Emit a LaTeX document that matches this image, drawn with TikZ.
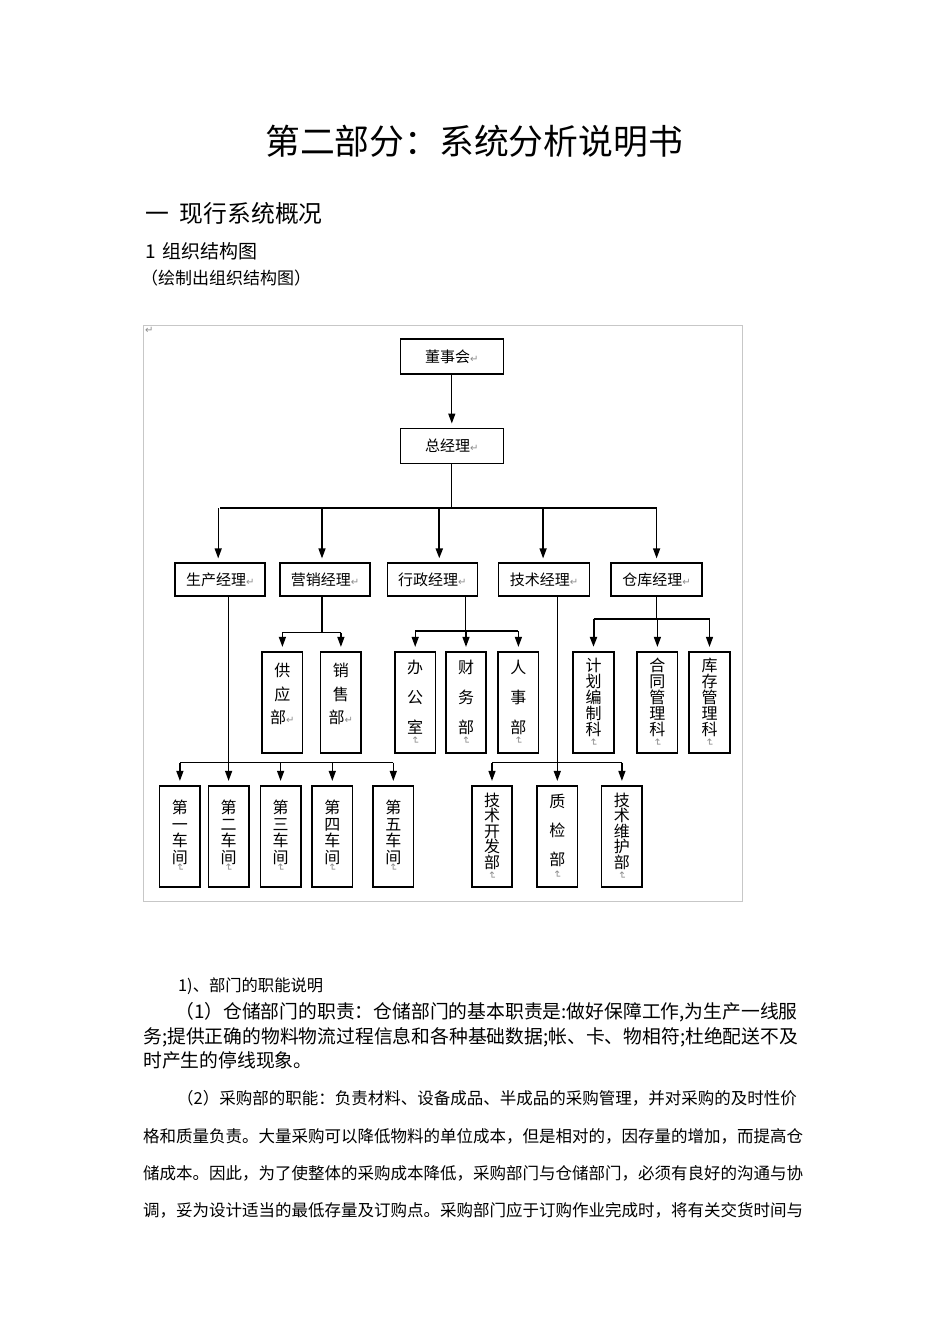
\documentclass[tikz,border=0pt]{standalone}
\usepackage{fontspec}
\usepackage{graphicx}
\setmainfont{Noto Sans CJK SC}
\newfontfamily\symfont{DejaVu Sans}
\XeTeXlinebreaklocale "zh"
\XeTeXlinebreakskip=0pt plus 2pt
\usetikzlibrary{arrows.meta}
\tikzset{
  box/.style={draw,line width=1.6pt,inner sep=0pt,font=\fontsize{15}{15}\selectfont},
  hbox/.style={box,minimum width=90pt,minimum height=33pt},
  vbox/.style={box,minimum width=40.5pt,minimum height=101pt,align=center},
  link/.style={line width=1.3pt},
  arr/.style={link,->,shorten >=4pt},
  txt/.style={anchor=west,inner sep=0pt},
}
\newcommand{\retmark}{{\color{black!45}\symfont\fontsize{10}{10}\selectfont ↵}}
\newcommand{\vretmark}{{\color{black!45}\symfont\fontsize{10}{10}\selectfont\rotatebox[origin=c]{-90}{↵}}}
\newcommand{\fullline}[2]{\makebox[#1pt][s]{#2}}
\begin{document}
\begin{tikzpicture}[x=1pt,y=-1pt,>={Triangle[length=10pt,width=7pt]}]
\fill[white] (0,0) rectangle (950,1344);
\useasboundingbox (0,0) rectangle (950,1344);
% headings
\node[font=\fontsize{34.8}{40}\selectfont] (title) at (474,141) {第二部分：系统分析说明书};
\node[txt,font=\fontsize{23.8}{28}\selectfont] (sec) at (145,213) {一\hspace{11pt}现行系统概况};
\node[txt,font=\fontsize{19}{22}\selectfont] (sub) at (145,251) {1\hspace{7pt}组织结构图};
\node[txt,font=\fontsize{17}{20}\selectfont] (note) at (141,278) {（绘制出组织结构图）};
% frame
\draw[black!22,line width=1pt] (143.5,325.5) rectangle (742.5,901.5);
\node[inner sep=0pt,anchor=north west] (pmark) at (145,327) {\retmark};
% top
\node[box,minimum width=103pt,minimum height=35pt] (dsh) at (451.8,356.5) {董事会\retmark};
\node[box,minimum width=103pt,minimum height=35pt] (zjl) at (451.8,445.8) {总经理\retmark};
\node[hbox] (scjl) at (220.2,579.7) {生产经理\retmark};
\node[hbox] (yxjl) at (325,579.7) {营销经理\retmark};
\node[hbox] (xzjl) at (432.3,579.7) {行政经理\retmark};
\node[hbox,minimum width=91pt] (jsjl) at (544.1,579.7) {技术经理\retmark};
\node[hbox,minimum width=91pt] (ckjl) at (656.6,579.7) {仓库经理\retmark};
% third row
\node[vbox,font=\fontsize{16}{23.5}\selectfont] (gyb) at (282.4,702.2) {供\\应\\部\retmark\\[-6pt]\mbox{}};
\node[vbox,font=\fontsize{16}{23.5}\selectfont] (xsb) at (340.9,702.2) {销\\售\\部\retmark\\[-6pt]\mbox{}};
\node[vbox,font=\fontsize{16}{30}\selectfont] (bgs) at (415.2,702.2) {办\\公\\室\\[-20pt]\vretmark};
\node[vbox,font=\fontsize{16}{30}\selectfont] (cwb) at (466,702.2) {财\\务\\部\\[-20pt]\vretmark};
\node[vbox,font=\fontsize{16}{30}\selectfont] (rsb) at (518.4,702.2) {人\\事\\部\\[-20pt]\vretmark};
\node[vbox,font=\fontsize{16}{16}\selectfont] (jhk) at (593.5,702.2) {计\\划\\编\\制\\科\\[-6pt]\vretmark};
\node[vbox,font=\fontsize{16}{16}\selectfont] (htk) at (657.4,702.2) {合\\同\\管\\理\\科\\[-6pt]\vretmark};
\node[vbox,font=\fontsize{16}{16}\selectfont] (kck) at (709.5,702.2) {库\\存\\管\\理\\科\\[-6pt]\vretmark};
% bottom row
\node[vbox,font=\fontsize{16}{16.5}\selectfont] (cj1) at (179.9,836.2) {第\\一\\车\\间\\[-8.5pt]\vretmark};
\node[vbox,font=\fontsize{16}{16.5}\selectfont] (cj2) at (228.6,836.2) {第\\二\\车\\间\\[-8.5pt]\vretmark};
\node[vbox,font=\fontsize{16}{16.5}\selectfont] (cj3) at (280.6,836.2) {第\\三\\车\\间\\[-8.5pt]\vretmark};
\node[vbox,font=\fontsize{16}{16.5}\selectfont] (cj4) at (332.3,836.2) {第\\四\\车\\间\\[-8.5pt]\vretmark};
\node[vbox,font=\fontsize{16}{16.5}\selectfont] (cj5) at (393.3,836.2) {第\\五\\车\\间\\[-8.5pt]\vretmark};
\node[vbox,font=\fontsize{16}{15.5}\selectfont] (kfb) at (492,836.2) {技\\术\\开\\发\\部\\[-5pt]\vretmark};
\node[vbox,font=\fontsize{16}{29}\selectfont] (zjb) at (557.3,836.2) {质\\检\\部\\[-17pt]\vretmark};
\node[vbox,font=\fontsize{16}{15.5}\selectfont] (whb) at (621.9,836.2) {技\\术\\维\\护\\部\\[-5pt]\vretmark};
% connectors
\draw[arr] (dsh) -- (zjl);
\draw[link] (zjl.south) -- ++(0,44) coordinate (bus1);
\draw[link] (scjl.north |- bus1) -- (ckjl.north |- bus1);
\foreach \n/\dx in {scjl/-2,yxjl/-3,jsjl/-1,ckjl/0}
  \draw[arr] ([xshift=\dx pt]\n.north |- bus1) -- ([xshift=\dx pt]\n.north);
\draw[arr,line width=2pt] ([xshift=7pt]xzjl.north |- bus1) -- ([xshift=7pt]xzjl.north);
\draw[link] ([xshift=-3pt]yxjl.south) -- ++(0,35.7) coordinate (bus2);
\draw[link] (gyb.north |- bus2) -- (xsb.north |- bus2);
\foreach \n in {gyb,xsb}
  \draw[arr] (\n.north |- bus2) -- (\n.north);
\draw[link] ([xshift=33pt]xzjl.south) -- ++(0,34) coordinate (bus3);
\draw[link] (bgs.north |- bus3) -- (rsb.north |- bus3);
\foreach \n in {bgs,cwb,rsb}
  \draw[arr] (\n.north |- bus3) -- (\n.north);
\draw[link] (ckjl.south) -- ++(0,22.3) coordinate (bus4);
\draw[link,line width=2.2pt] (jhk.north |- bus4) -- (kck.north |- bus4);
\draw[arr,line width=2pt] (jhk.north |- bus4) -- (jhk.north);
\foreach \n in {htk,kck}
  \draw[arr] (\n.north |- bus4) -- (\n.north);
\draw[arr] (cj2.north |- scjl.south) -- (cj2.north);
\path (cj2.north) ++(0,-22.4) coordinate (bus5);
\draw[link] (cj1.north |- bus5) -- (cj5.north |- bus5);
\foreach \n in {cj1,cj3,cj4,cj5}
  \draw[arr] (\n.north |- bus5) -- (\n.north);
\draw[arr] (zjb.north |- jsjl.south) -- (zjb.north);
\path (zjb.north) ++(0,-22.4) coordinate (bus6);
\draw[link] (kfb.north |- bus6) -- (whb.north |- bus6);
\foreach \n in {kfb,whb}
  \draw[arr] (\n.north |- bus6) -- (\n.north);
% text below
\node[txt,font=\fontsize{16.3}{20}\selectfont] (p0) at (178,986) {1)、部门的职能说明};
\node[txt,font=\fontsize{18.8}{22}\selectfont] (p1a) at (175,1012) {\fullline{630}{（1）仓储部门的职责：仓储部门的基本职责是:做好保障工作,为生产一线服}};
\node[txt,font=\fontsize{18.8}{22}\selectfont] (p1b) at (143,1037) {\fullline{662}{务;提供正确的物料物流过程信息和各种基础数据;帐、卡、物相符;杜绝配送不及}};
\node[txt,font=\fontsize{18.8}{22}\selectfont] (p1c) at (143,1060) {时产生的停线现象。};
\node[txt,font=\fontsize{16.5}{20}\selectfont] (p2a) at (177,1098) {\fullline{628}{（2）采购部的职能：负责材料、设备成品、半成品的采购管理，并对采购的及时性价}};
\node[txt,font=\fontsize{16.5}{20}\selectfont] (p2b) at (143,1136) {\fullline{662}{格和质量负责。大量采购可以降低物料的单位成本，但是相对的，因存量的增加，而提高仓}};
\node[txt,font=\fontsize{16.5}{20}\selectfont] (p2c) at (143,1173) {\fullline{662}{储成本。因此，为了使整体的采购成本降低，采购部门与仓储部门，必须有良好的沟通与协}};
\node[txt,font=\fontsize{16.5}{20}\selectfont] (p2d) at (143,1210) {\fullline{662}{调，妥为设计适当的最低存量及订购点。采购部门应于订购作业完成时，将有关交货时间与}};
\end{tikzpicture}
\end{document}
